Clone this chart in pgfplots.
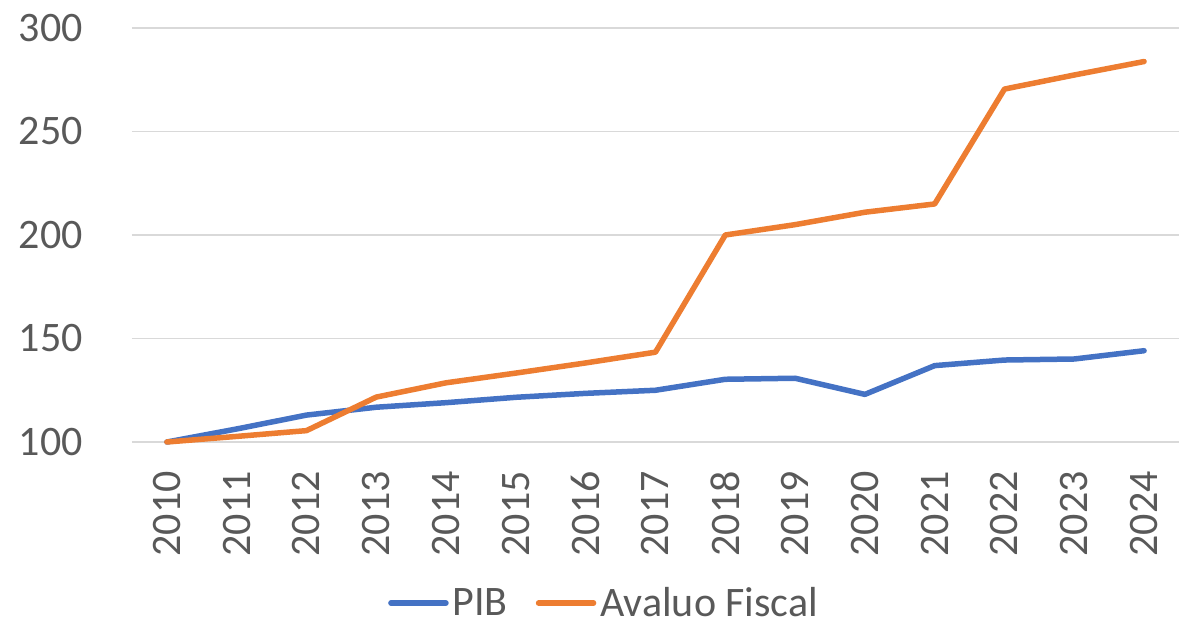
\documentclass[border=0pt]{standalone}
\usepackage{fontspec}
\setmainfont{Carlito}
\usepackage{pgfplots}
\pgfplotsset{compat=1.18}
\definecolor{pib}{HTML}{4472C4}
\definecolor{aval}{HTML}{ED7D31}
\definecolor{gridc}{HTML}{D9D9D9}
\definecolor{txt}{HTML}{595959}
\begin{document}
\begin{tikzpicture}
\useasboundingbox (-132bp,-180bp) rectangle (1050bp,442bp);
\begin{axis}[
  scale only axis,
  width=1047bp, height=414bp,
  xmin=-0.5, xmax=14.5,
  ymin=100, ymax=300,
  ytick={100,150,200,250,300},
  xtick={0,...,14},
  xticklabels={2010,2011,2012,2013,2014,2015,2016,2017,2018,2019,2020,2021,2022,2023,2024},
  axis line style={draw=none},
  major tick style={draw=none},
  ymajorgrids,
  grid style={gridc, line width=1.5bp},
  /pgf/number format/assume math mode=true,
  tick label style={font=\fontsize{42bp}{50bp}\selectfont, text=txt},
  yticklabel style={anchor=east, inner sep=0pt, xshift=-49bp},
  xticklabel style={rotate=90, anchor=east, inner sep=0pt, xshift=-29bp},
  legend style={at={(0.2445,-0.389)}, anchor=west, draw=none, fill=none, inner sep=0pt,
    font=\fontsize{42bp}{50bp}\selectfont, text=txt,
    nodes={inner sep=0pt},
    legend columns=2,
    /tikz/every odd column/.append style={column sep=4bp},
    /tikz/every even column/.append style={column sep=28bp}},
  legend cell align=left,
  legend image code/.code={\draw[#1] (0bp,0bp) -- (55bp,0bp);},
  every axis plot/.append style={line width=5.5bp, line join=round, line cap=round},
  clip=false,
]
\addplot[pib] coordinates {
 (0,100) (1,106.3) (2,113) (3,116.8) (4,119) (5,121.6) (6,123.5) (7,125)
 (8,130.3) (9,130.8) (10,123) (11,136.9) (12,139.6) (13,140.1) (14,144.1)};
\addlegendentry{PIB}
\addplot[aval] coordinates {
 (0,100) (1,102.7) (2,105.5) (3,121.7) (4,128.6) (5,133.3) (6,138.2) (7,143.4)
 (8,200) (9,205) (10,211) (11,215) (12,270.5) (13,277.3) (14,283.8)};
\addlegendentry{Avaluo Fiscal}
\end{axis}
\end{tikzpicture}
\end{document}
